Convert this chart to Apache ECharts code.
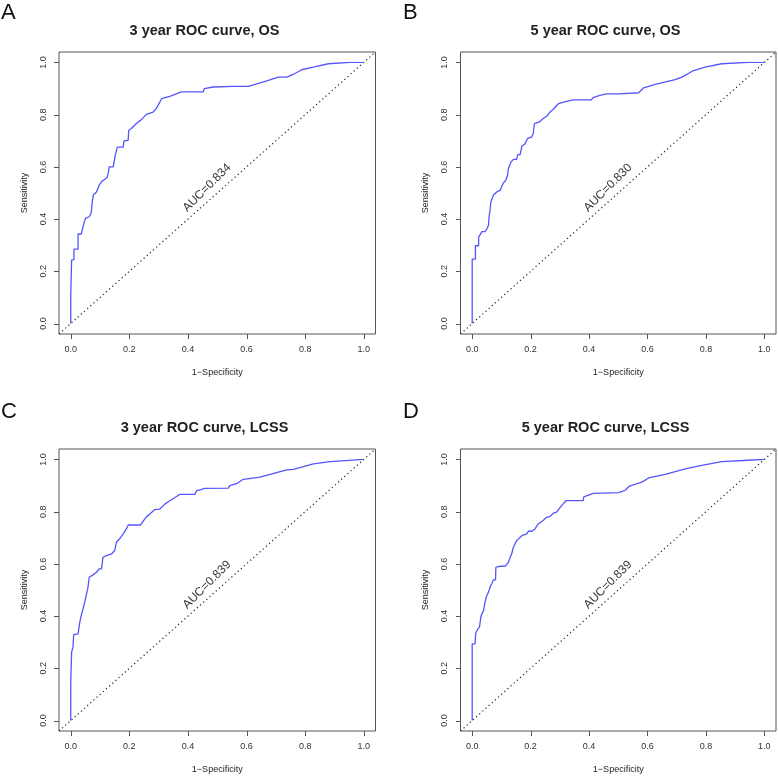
<!DOCTYPE html>
<html>
<head>
<meta charset="utf-8">
<script src="https://cdn.jsdelivr.net/npm/echarts@6/dist/echarts.min.js"></script>
<style>html,body{margin:0;padding:0;background:#fff}#c{width:778px;height:776px}</style>
</head>
<body>
<div id="c"></div>
<script>
// ---- data ----
const tickValues = [0, 0.2, 0.4, 0.6, 0.8, 1.0];
const tickLabels = ['0.0', '0.2', '0.4', '0.6', '0.8', '1.0'];
const panelLetters = ['A', 'B', 'C', 'D'];
const panelTitles = ['3 year ROC curve, OS', '5 year ROC curve, OS', '3 year ROC curve, LCSS', '5 year ROC curve, LCSS'];
const aucValues = ['0.834', '0.830', '0.839', '0.839'];
const xAxisTitle = '1\u2212Specificity';
const yAxisTitle = 'Sensitivity';

const fpr_3y_OS = [0,0,0.003,0.003,0.008,0.011,0.011,0.025,0.025,0.036,0.042,0.050,0.063,0.070,0.073,0.077,0.088,0.097,0.105,0.124,0.129,0.131,0.145,0.148,0.152,0.159,0.179,0.182,0.196,0.198,0.207,0.224,0.241,0.258,0.281,0.292,0.310,0.338,0.378,0.452,0.456,0.486,0.555,0.606,0.669,0.708,0.737,0.759,0.788,0.828,0.879,0.953,1];
const tpr_3y_OS = [0,0.103,0.103,0.243,0.245,0.245,0.285,0.285,0.343,0.343,0.371,0.403,0.409,0.424,0.460,0.492,0.504,0.530,0.543,0.559,0.581,0.600,0.600,0.619,0.645,0.676,0.676,0.700,0.702,0.740,0.747,0.766,0.781,0.801,0.810,0.823,0.861,0.870,0.887,0.887,0.900,0.906,0.908,0.908,0.929,0.944,0.944,0.954,0.972,0.982,0.995,1.000,1];

const fpr_5y_OS = [0,0,0.011,0.011,0.022,0.022,0.033,0.044,0.050,0.056,0.058,0.061,0.064,0.073,0.084,0.096,0.101,0.107,0.115,0.121,0.124,0.133,0.141,0.152,0.156,0.164,0.170,0.181,0.189,0.204,0.209,0.213,0.230,0.243,0.255,0.266,0.277,0.295,0.323,0.346,0.408,0.414,0.437,0.460,0.502,0.507,0.570,0.587,0.627,0.695,0.718,0.758,0.797,0.854,0.945,1];
const tpr_5y_OS = [0,0.247,0.247,0.298,0.298,0.330,0.352,0.352,0.362,0.377,0.412,0.434,0.466,0.492,0.504,0.511,0.524,0.539,0.549,0.568,0.594,0.619,0.629,0.629,0.647,0.647,0.679,0.689,0.708,0.715,0.728,0.766,0.772,0.785,0.794,0.810,0.820,0.842,0.851,0.857,0.857,0.865,0.874,0.880,0.880,0.884,0.884,0.903,0.916,0.934,0.944,0.969,0.982,0.995,1.000,1];

const fpr_3y_LCSS = [0,0,0.003,0.003,0.008,0.010,0.010,0.025,0.028,0.031,0.036,0.042,0.048,0.054,0.059,0.063,0.065,0.076,0.088,0.097,0.105,0.110,0.122,0.139,0.150,0.156,0.167,0.179,0.190,0.196,0.238,0.253,0.259,0.270,0.287,0.304,0.321,0.338,0.372,0.424,0.429,0.458,0.538,0.543,0.566,0.589,0.646,0.737,0.760,0.828,0.885,1];
const tpr_3y_LCSS = [0,0.141,0.141,0.262,0.282,0.282,0.329,0.332,0.339,0.377,0.403,0.428,0.454,0.485,0.511,0.549,0.555,0.558,0.568,0.581,0.581,0.625,0.632,0.638,0.651,0.683,0.696,0.715,0.734,0.749,0.749,0.772,0.781,0.791,0.808,0.810,0.829,0.842,0.866,0.866,0.880,0.889,0.890,0.900,0.907,0.924,0.932,0.960,0.962,0.983,0.992,1];

const fpr_5y_LCSS = [0,0,0.010,0.012,0.018,0.025,0.030,0.030,0.039,0.044,0.050,0.056,0.061,0.067,0.073,0.080,0.081,0.090,0.113,0.124,0.130,0.135,0.141,0.152,0.158,0.170,0.187,0.192,0.204,0.215,0.226,0.243,0.254,0.266,0.278,0.289,0.306,0.321,0.380,0.382,0.414,0.502,0.513,0.524,0.538,0.581,0.604,0.661,0.729,0.786,0.854,0.945,1];
const tpr_5y_LCSS = [0,0.294,0.294,0.335,0.348,0.358,0.362,0.399,0.422,0.454,0.479,0.492,0.511,0.524,0.539,0.539,0.587,0.590,0.592,0.606,0.625,0.638,0.664,0.689,0.696,0.708,0.715,0.725,0.725,0.734,0.753,0.766,0.778,0.781,0.794,0.798,0.823,0.842,0.842,0.857,0.870,0.873,0.878,0.882,0.898,0.913,0.929,0.943,0.964,0.977,0.992,0.997,1];

const diagonal = [-0.04, 1.04];

// ---- layout ----
const FONT = 'Liberation Sans, Arial, Helvetica, sans-serif';
const boxes = [
  {left: 59, top: 52, width: 316.5, height: 282},
  {left: 460.5, top: 52, width: 315.5, height: 282},
  {left: 59, top: 449, width: 316.5, height: 282},
  {left: 460.5, top: 449, width: 315.5, height: 282}
];
const titlePos = [[204.5, 30.5], [605.5, 30.5], [204.5, 428], [605.5, 428]];
const letterPos = [[1, 13], [403, 13], [1, 412], [403, 412]];
const aucPos = [0.465, 0.52];
const TICK_LEN = 5;

const curves = [
  [fpr_3y_OS, tpr_3y_OS],
  [fpr_5y_OS, tpr_5y_OS],
  [fpr_3y_LCSS, tpr_3y_LCSS],
  [fpr_5y_LCSS, tpr_5y_LCSS]
];

const grids = [], xAxes = [], yAxes = [], series = [], graphics = [];
boxes.forEach((b, i) => {
  const insetX = b.width * 0.04 / 1.08, insetY = b.height * 0.04 / 1.08;
  grids.push({left: b.left + insetX, top: b.top + insetY, width: b.width - 2 * insetX, height: b.height - 2 * insetY});
  grids.push({left: b.left, top: b.top, width: b.width, height: b.height, show: true,
    borderColor: '#555', borderWidth: 1, backgroundColor: 'transparent'});
  const gi = 2 * i;
  const common = {
    type: 'value', gridIndex: gi, min: 0, max: 1, interval: 0.2,
    splitLine: {show: false},
    axisLine: {show: false, onZero: false},
    axisTick: {show: false},
    axisLabel: {show: true, color: '#333', fontSize: 9, fontFamily: FONT, margin: 11,
      formatter: v => tickLabels[Math.round(v / 0.2)]},
    nameLocation: 'middle',
    nameTextStyle: {fontSize: 9, color: '#222', fontFamily: FONT}
  };
  xAxes.push(Object.assign({}, common, {position: 'bottom', offset: insetY, name: xAxisTitle, nameGap: 34}));
  yAxes.push(Object.assign({}, common, {
    position: 'left', offset: insetX, name: yAxisTitle, nameGap: 30,
    axisLabel: Object.assign({}, common.axisLabel, {rotate: 90})
  }));
  xAxes.push({type: 'value', gridIndex: gi + 1, show: false, min: diagonal[0], max: diagonal[1]});
  yAxes.push({type: 'value', gridIndex: gi + 1, show: false, min: diagonal[0], max: diagonal[1]});
  const ax = 2 * i;
  const [fx, ty] = curves[i];
  series.push({
    type: 'line', xAxisIndex: ax, yAxisIndex: ax, symbol: 'none', silent: true,
    data: fx.map((x, k) => [x, ty[k]]),
    lineStyle: {color: '#5555ff', width: 1.3}, z: 3
  });
  series.push({
    type: 'line', xAxisIndex: ax + 1, yAxisIndex: ax + 1, symbol: 'none', silent: true,
    data: [[diagonal[0], diagonal[0]], [diagonal[1], diagonal[1]]],
    lineStyle: {color: '#222', width: 1.2, type: [1.2, 3]}, z: 2
  });
  series.push({
    type: 'scatter', xAxisIndex: ax, yAxisIndex: ax, symbolSize: 0, silent: true,
    data: [aucPos],
    label: {show: true, position: 'inside', formatter: 'AUC=' + aucValues[i], rotate: 45,
      fontSize: 12, color: '#000', fontFamily: FONT}, z: 4
  });
  graphics.push({
    type: 'text', x: titlePos[i][0], y: titlePos[i][1],
    style: {text: panelTitles[i], align: 'center', verticalAlign: 'middle',
      fontSize: 14.5, fontWeight: 'bold', fontFamily: FONT, fill: '#222'}
  });
  graphics.push({
    type: 'text', x: letterPos[i][0], y: letterPos[i][1],
    style: {text: panelLetters[i], align: 'left', verticalAlign: 'middle',
      fontSize: 22, fontFamily: FONT, fill: '#111'}
  });
});

const chart = echarts.init(document.getElementById('c'), null, {renderer: 'canvas'});
chart.setOption({
  animation: false,
  backgroundColor: '#fff',
  grid: grids, xAxis: xAxes, yAxis: yAxes, series: series, graphic: graphics
});

// axis ticks outward from each box, as thin filled rects
function toPixel(i, v) {
  // try the library's scale first, then fall back to the box layout
  let p = null;
  try { p = chart.convertToPixel({gridIndex: 2 * i + 1}, [v, v]); } catch (e) { p = null; }
  if (!p || !isFinite(p[0]) || !isFinite(p[1])) {
    try { p = chart.convertToPixel({xAxisIndex: 2 * i + 1, yAxisIndex: 2 * i + 1}, [v, v]); } catch (e) { p = null; }
  }
  if (!p || !isFinite(p[0]) || !isFinite(p[1])) {
    const b = boxes[i], f = (v - diagonal[0]) / (diagonal[1] - diagonal[0]);
    p = [b.left + f * b.width, b.top + b.height - f * b.height];
  }
  return p;
}
const tickGraphics = [];
boxes.forEach((b, i) => {
  const bottom = Math.round(b.top + b.height), left = Math.round(b.left);
  tickValues.forEach(v => {
    const p = toPixel(i, v);
    tickGraphics.push({type: 'rect', z: 100, silent: true,
      shape: {x: Math.round(p[0]), y: bottom, width: 1, height: TICK_LEN},
      style: {fill: '#555'}});
    tickGraphics.push({type: 'rect', z: 100, silent: true,
      shape: {x: left - TICK_LEN, y: Math.round(p[1]), width: TICK_LEN, height: 1},
      style: {fill: '#555'}});
  });
});
chart.setOption({graphic: graphics.concat(tickGraphics)});
</script>
</body>
</html>
